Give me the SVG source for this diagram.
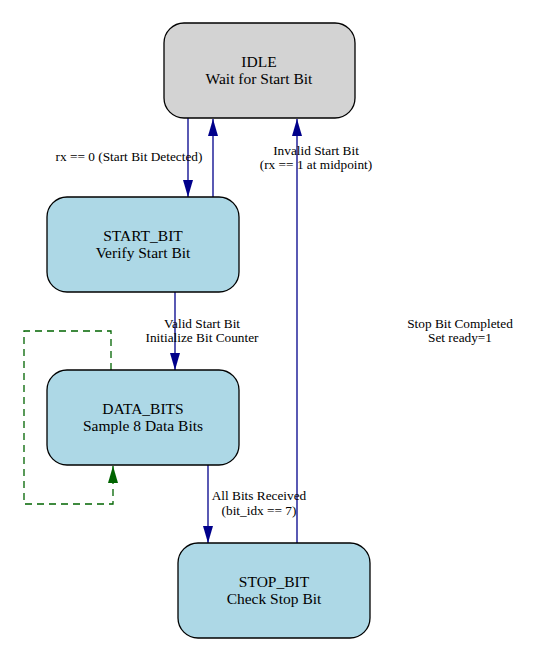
<svg xmlns="http://www.w3.org/2000/svg" width="542" height="656" viewBox="0 0 542 656">
<style>
.node{stroke:#000;stroke-width:1.3}
.nt{font-family:'Liberation Serif','Times New Roman','DejaVu Serif',serif;font-size:15.5px;text-anchor:middle;fill:#000}
.lt{font-family:'Liberation Serif','Times New Roman','DejaVu Serif',serif;font-size:13.3px;text-anchor:middle;fill:#000}
.e{stroke:#00008b;stroke-width:1.3;fill:none}
.loop{stroke:#006400;stroke-width:1.3;fill:none;stroke-dasharray:7,5}
</style>
<defs>
<marker id="ah" viewBox="0 0 10 10" refX="10" refY="5" markerWidth="17" markerHeight="10" markerUnits="userSpaceOnUse" orient="auto" preserveAspectRatio="none"><path d="M0,0 L10,5 L0,10 Z" fill="#00008b"/></marker>
<marker id="ahg" viewBox="0 0 10 10" refX="10" refY="5" markerWidth="17" markerHeight="10" markerUnits="userSpaceOnUse" orient="auto" preserveAspectRatio="none"><path d="M0,0 L10,5 L0,10 Z" fill="#006400"/></marker>
</defs>
<rect width="542" height="656" fill="#fff"/>
<g id="connectors">
<line class="e" x1="188" y1="118" x2="188" y2="197" marker-end="url(#ah)"/>
<line class="e" x1="213" y1="197" x2="213" y2="119" marker-end="url(#ah)"/>
<line class="e" x1="297" y1="543" x2="297" y2="119" marker-end="url(#ah)"/>
<line class="e" x1="175" y1="292" x2="175" y2="370" marker-end="url(#ah)"/>
<line class="e" x1="208" y1="465" x2="208" y2="543" marker-end="url(#ah)"/>
<path class="loop" d="M111,370 L111,331 L24,331 L24,504 L113,504 L113,466" marker-end="url(#ahg)"/>
<text class="lt" x="129" y="161">rx == 0 (Start Bit Detected)</text>
<text class="lt" x="316" y="155">Invalid Start Bit</text>
<text class="lt" x="316" y="169">(rx == 1 at midpoint)</text>
<text class="lt" x="202" y="328">Valid Start Bit</text>
<text class="lt" x="202" y="342">Initialize Bit Counter</text>
<text class="lt" x="259" y="500">All Bits Received</text>
<text class="lt" x="259" y="515">(bit_idx == 7)</text>
<text class="lt" x="460" y="328">Stop Bit Completed</text>
<text class="lt" x="460" y="342">Set ready=1</text>
</g>
<g id="IDLE">
<rect class="node" x="164" y="23" width="191" height="95" rx="20" fill="#d3d3d3"/>
<text class="nt" x="259" y="67">IDLE</text>
<text class="nt" x="259" y="84">Wait for Start Bit</text>
</g>
<g id="START_BIT">
<rect class="node" x="47" y="197" width="192" height="95" rx="20" fill="#add8e6"/>
<text class="nt" x="143" y="241">START_BIT</text>
<text class="nt" x="143" y="258">Verify Start Bit</text>
</g>
<g id="DATA_BITS">
<rect class="node" x="47" y="370" width="192" height="95" rx="20" fill="#add8e6"/>
<text class="nt" x="143" y="414">DATA_BITS</text>
<text class="nt" x="143" y="431">Sample 8 Data Bits</text>
</g>
<g id="STOP_BIT">
<rect class="node" x="178" y="543" width="192" height="95" rx="20" fill="#add8e6"/>
<text class="nt" x="274" y="587">STOP_BIT</text>
<text class="nt" x="274" y="604">Check Stop Bit</text>
</g>
</svg>
